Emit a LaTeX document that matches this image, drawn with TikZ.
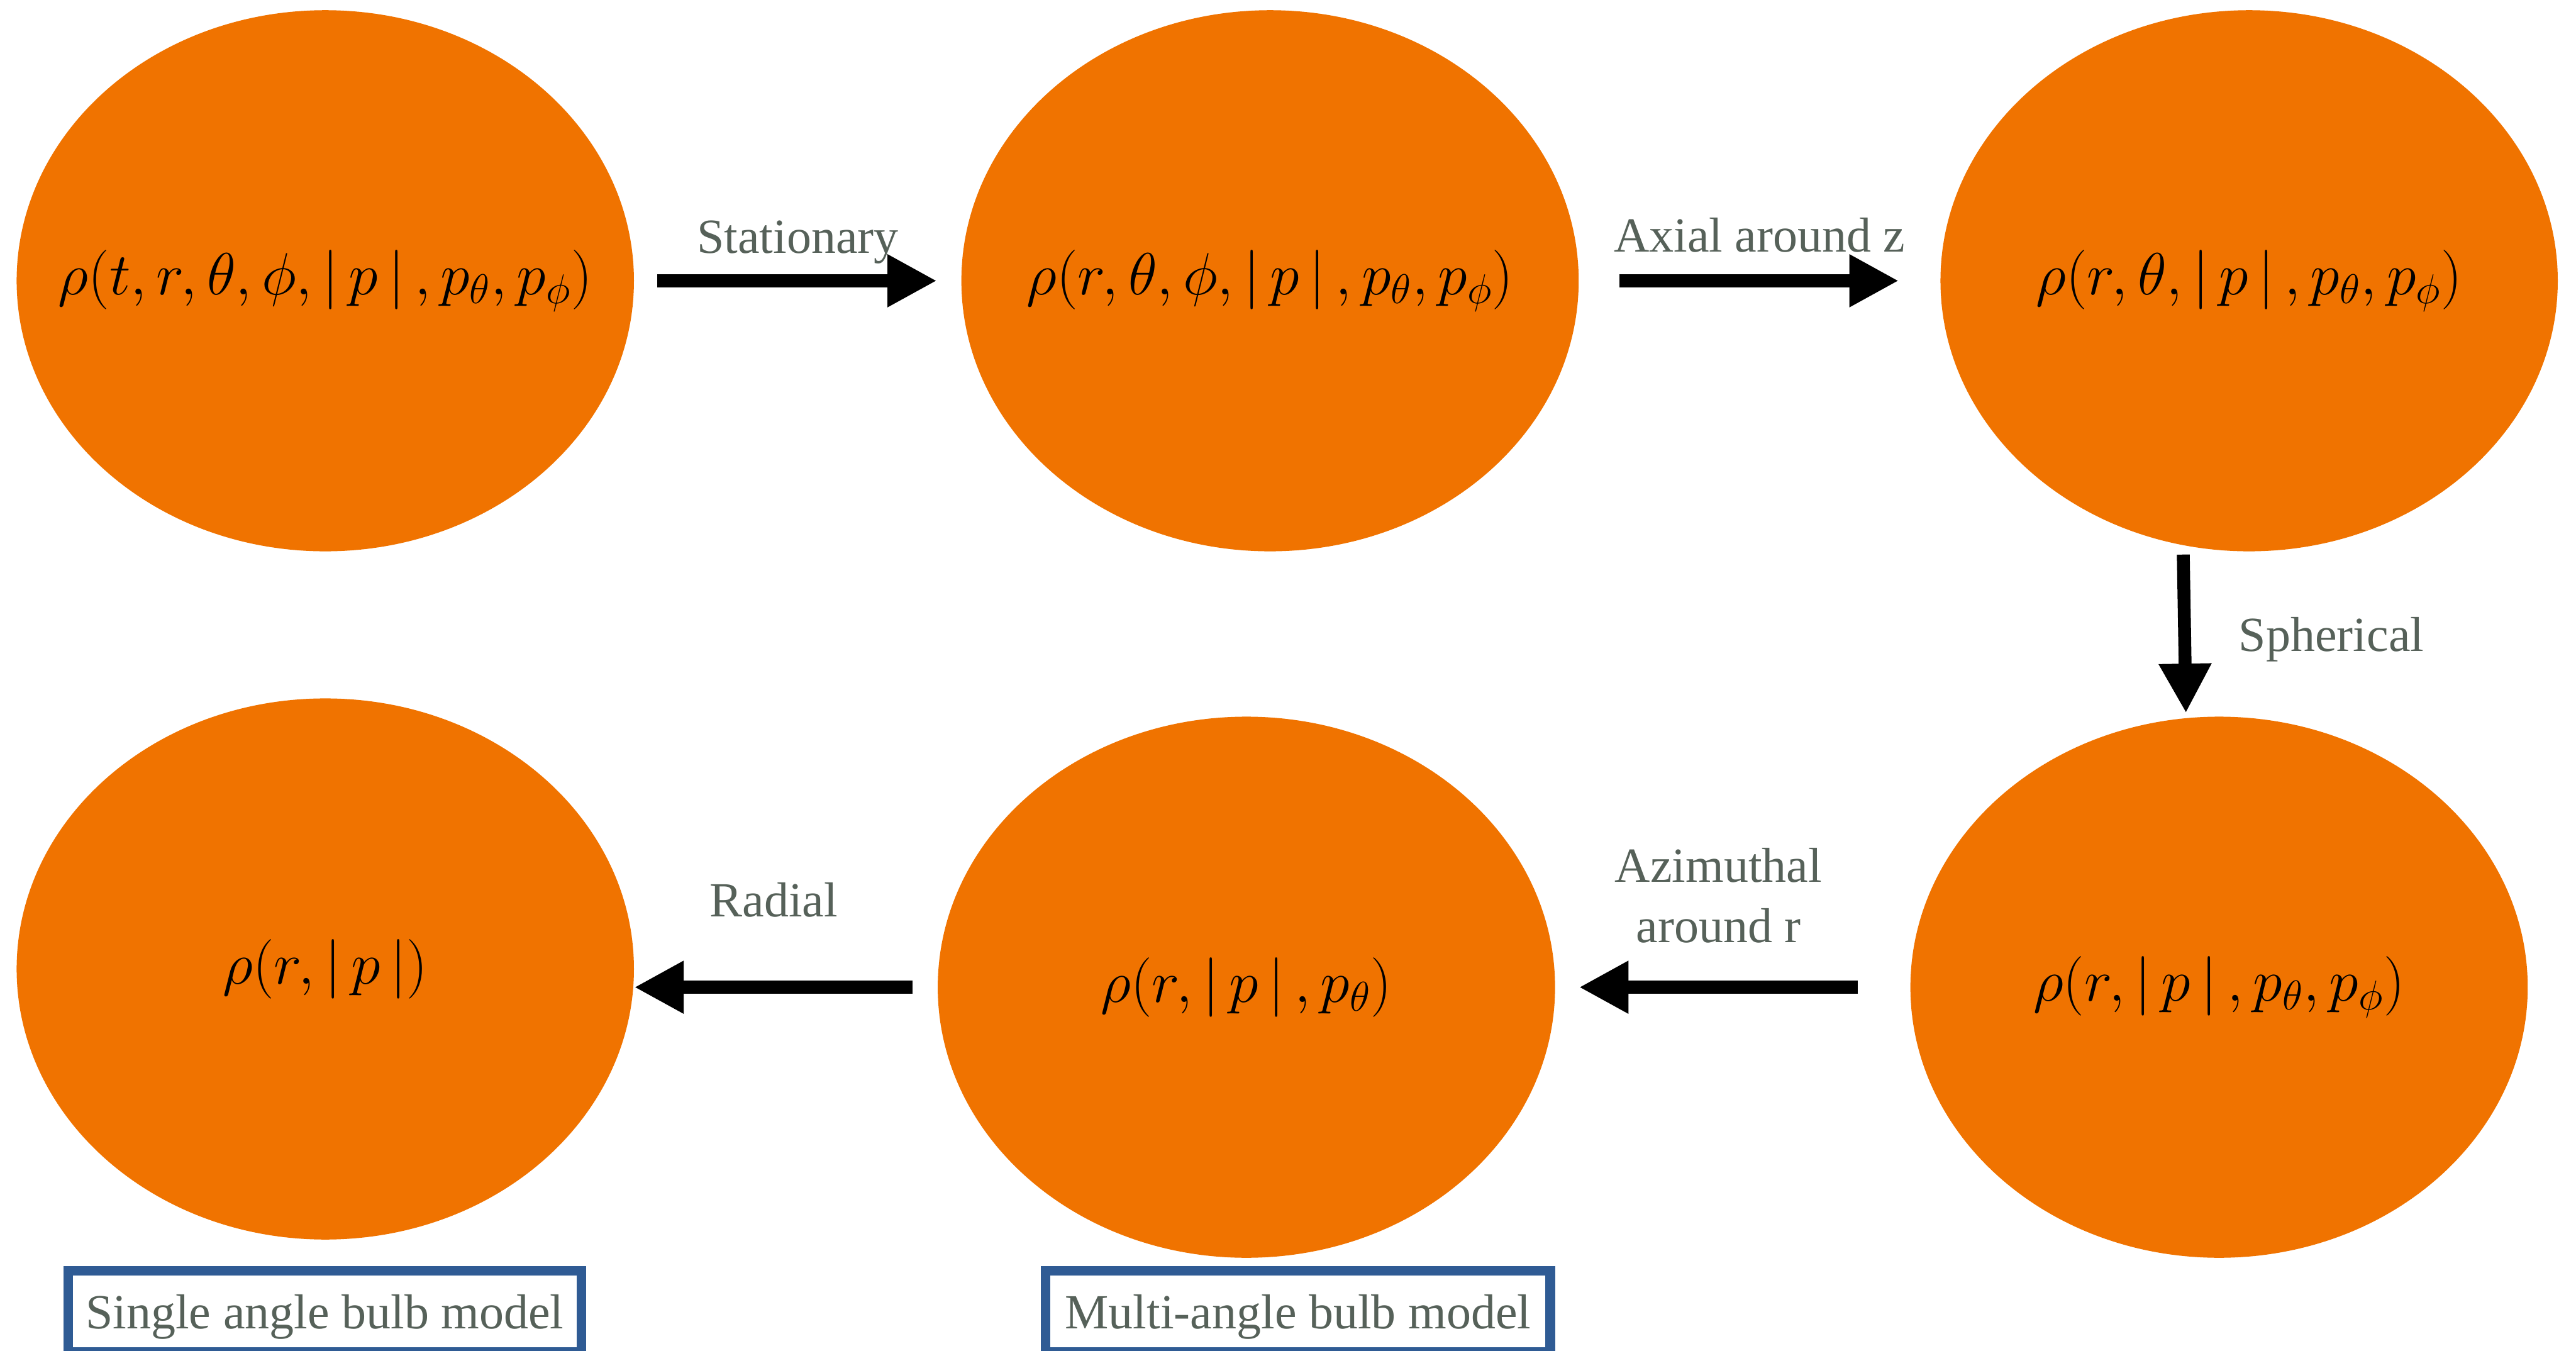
\RequirePackage{fix-cm}
\documentclass[tikz,border=0pt]{standalone}
\usepackage{fontspec}
\setmainfont{Liberation Serif}
\usepackage{xcolor}
\usepackage{tikz}
\usetikzlibrary{arrows.meta,positioning,shapes.geometric}

\definecolor{bulborange}{HTML}{F07300}
\definecolor{labelgray}{HTML}{566159}
\definecolor{modelblue}{HTML}{2F5B94}

\newcommand{\dens}[1]{\makebox[0pt]{$\rho(#1)$}}

\begin{document}
\begin{tikzpicture}[
  dist/.style={ellipse, fill=bulborange, minimum width=11.5cm, minimum height=10.08cm, inner sep=0pt, font=\fontsize{31.5}{38}\selectfont},
  cond/.style={inner sep=0pt, text=labelgray, font=\fontsize{26}{32}\selectfont},
  model/.style={rectangle, draw=modelblue, line width=0.18cm, fill=white, inner sep=0pt, minimum height=1.52cm, text height=0.72cm, text depth=0.08cm, text=labelgray, font=\fontsize{26}{32}\selectfont},
  bigarrow/.style={-{Triangle[length=0.92cm,width=0.92cm]}, line width=0.24cm, black}
]
  \useasboundingbox (0,0) rectangle (47.99,-25.16);

  % Top row (left to right)
  \node[dist] (full) at (6.06,-5.23) {\dens{t,r,\theta,\phi,|\,p\,|\,,p_\theta,p_\phi}};
  \node[dist] (stat) at (23.66,-5.23) {\dens{r,\theta,\phi,|\,p\,|\,,p_\theta,p_\phi}};
  \node[dist] (axi) at (41.90,-5.23) {\dens{r,\theta,|\,p\,|\,,p_\theta,p_\phi}};

  % Bottom row (right to left)
  \node[dist] (sph) at (41.34,-18.39) {\dens{r,|\,p\,|\,,p_\theta,p_\phi}};
  \node[dist] (mab) at (23.22,-18.39) {\dens{r,|\,p\,|\,,p_\theta}};
  \node[dist] (sab) at (6.06,-18.05) {\dens{r,|\,p\,|}};

  % Top row connections
  \path[bigarrow]
    (full) edge[shorten <=0.43cm, shorten >=0.45cm] node[cond, above=0.20cm] {Stationary} (stat)
    (stat) edge[shorten <=0.75cm, shorten >=0.77cm] node[cond, above=0.41cm] {Axial around z} (axi);

  % Down the right side
  \path[bigarrow]
    (axi.256.6) edge[shorten <=0.17cm, shorten >=0.09cm] node[cond, right=0.89cm, yshift=-0.15cm] {Spherical} (sph.97.4);

  % Bottom row connections (right to left)
  \path[bigarrow]
    (sph) edge[shorten <=0.97cm, shorten >=0.44cm] node[cond, above=0.70cm, pos=0.54, align=center] {Azimuthal\\around r} (mab)
    (mab.west) edge[shorten <=0.46cm] node[cond, above=1.18cm, pos=0.54] {Radial} (mab.west -| sab.east);

  % Model boxes
  \node[model, minimum width=9.56cm] (single) at (6.05,-24.43) {Single angle bulb model};
  \node[model, minimum width=9.40cm] (multi) at (24.18,-24.43) {Multi-angle bulb model};
\end{tikzpicture}
\end{document}
